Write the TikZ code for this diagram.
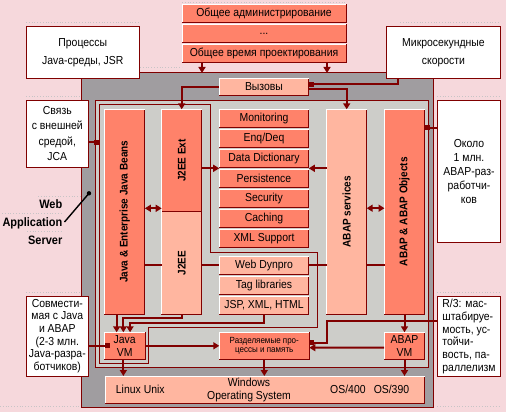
\documentclass[tikz,border=0pt]{standalone}
\usepackage{fontspec}
\setmainfont{Liberation Sans}[FakeStretch=0.9]
\usetikzlibrary{arrows.meta, positioning}
\definecolor{wpink}{RGB}{246,216,220}
\definecolor{wred}{RGB}{128,0,0}
\definecolor{salmon}{RGB}{255,130,106}
\definecolor{lsalmon}{RGB}{255,182,160}
\definecolor{wgrey}{RGB}{160,157,160}
\definecolor{lgrey}{RGB}{205,205,201}
\definecolor{dotgrey}{RGB}{200,196,198}

\begin{document}
\begin{tikzpicture}[
        x=1pt, y=-1pt,
        box/.style={draw=wred, line width=1pt, inner sep=0pt, outer sep=0pt,
            align=center, font=\fontsize{11.6}{13.5}\selectfont},
        salm/.style={box, fill=salmon},
        lsalm/.style={box, fill=lsalmon},
        tbox/.style={salm, minimum width=164pt, minimum height=18pt},
        svc/.style={salm, minimum width=89.6pt, minimum height=18pt},
        web/.style={lsalm, minimum width=89.6pt, minimum height=18pt},
        col/.style={minimum width=40pt, minimum height=204.8pt},
        vm/.style={salm, minimum width=40.7pt, minimum height=27pt},
        note/.style={draw=wred, line width=1pt, fill=white, inner sep=1pt,
            outer sep=0pt, align=center, font=\fontsize{11.6}{#1}\selectfont},
        note/.default=12.7,
        vlabel/.style={rotate=90, inner sep=0pt, font=\bfseries\fontsize{11.1}{13}\selectfont},
        ostext/.style={inner sep=0pt, align=center, font=\fontsize{11.6}{12.7}\selectfont},
        jframe/.style={draw=wred, line width=0.8pt},
        hilite/.style={draw=white, line width=1pt},
        guide/.style={draw=dotgrey, line width=0.8pt, dotted},
        conn/.style={draw=wred, line width=2pt},
        arr/.style={conn, -{Triangle[width=7pt,length=6pt]}},
        dbl/.style={conn, {Triangle[width=7pt,length=6pt]}-{Triangle[width=7pt,length=6pt]}},
        sq/.style={conn, -{Square[width=5pt,length=5pt]}}
        ]
    \useasboundingbox (0,0) rectangle (506,412);
    \fill[wpink] (0,0) rectangle (506,412);

    \foreach \xa/\xb/\yy in {26/140/22.5, 140/182/67.7, 182/346/2.5, 400/500/22.5,
            26/82/96, 437/500/96, 38/82/196.7, 2/62/213.3, 27/62/231.7,
            26/82/292, 437/500/292, 0/82/406, 437/500/406}
        \draw[guide] (\xa,\yy) -- (\xb,\yy);

    \node[tbox] (adm) at (264,13.5) {Общее администрирование};
    \node[tbox, below=2pt of adm] (etc) {...};
    \node[tbox, below=2pt of etc] (prj) {Общее время проектирования};

    \node[box, fill=wgrey, minimum width=351.5pt, minimum height=334pt] (was) at (257.25,240) {};
    \node[note=17.7, minimum width=113pt, minimum height=52pt] (jsr) at (82.8,52.7) {Процессы\\Java-среды, JSR};
    \node[note=17.7, minimum width=114.4pt, minimum height=52pt] (mks) at (443.5,52.7) {Микросекундные\\скорости};
    \node[lsalm, minimum width=89.6pt, minimum height=16.3pt] (vyz) at (264,86.85) {Вызовы};
    \node[box, fill=lgrey, minimum width=333pt, minimum height=267.5pt] (core) at (262,233.75) {};
    \draw[jframe] (99,104) -- (210.3,104) -- (210.3,252) -- (317,252) -- (317,327)
        -- (148.3,327) -- (148.3,363) -- (99,363) -- cycle;
    \coordinate (jstack) at (99,142.3);

    \node[salm, col] (ejb) at (124.85,211.8) {};
    \node[salm, minimum width=40pt, minimum height=102.4pt] (j2eext) at (181.7,160.5) {};
    \node[lsalm, minimum width=40pt, minimum height=102.6pt] (j2ee) at (181.7,263) {};
    \node[lsalm, col] (abs) at (346.7,211.7) {};
    \node[salm, col] (abo) at (404.5,211.7) {};

    \node[svc] (mon) at (264,118.3) {Monitoring};
    \node[svc, below=2pt of mon] (enq) {Enq/Deq};
    \node[svc, below=2pt of enq] (dd) {Data Dictionary};
    \node[svc, below=2pt of dd] (pers) {Persistence};
    \node[svc, below=2pt of pers] (sec) {Security};
    \node[svc, below=2pt of sec] (cach) {Caching};
    \node[svc, below=2pt of cach] (xml) {XML Support};
    \node[web] (wdp) at (264,265.3) {Web Dynpro};
    \node[web, below=2pt of wdp] (tag) {Tag libraries};
    \node[web, below=2pt of tag] (jsp) {JSP, XML, HTML};

    \node[vm] (jvm) at (124.65,345.8) {Java\\VM};
    \node[salm, minimum width=90pt, minimum height=26.6pt, font=\fontsize{8.9}{9.5}\selectfont] (razd) at (264.3,346) {Разделяемые про-\\цессы и память};
    \node[vm] (abvm) at (404.5,345.8) {ABAP\\VM};
    \node[lsalm, minimum width=319.7pt, minimum height=27.3pt] (os) at (264.85,389.65) {};

    \node[note=15.5, minimum width=62pt, minimum height=67.3pt] (jca) at (57.3,133.65) {Связь\\с внешней\\средой,\\JCA};
    \node[note, minimum width=62pt, minimum height=80pt] (compat) at (57.3,336) {Совмести-\\мая с Java\\и ABAP\\(2-3 млн.\\Java-разра-\\ботчиков)};
    \node[note=14, minimum width=63.4pt, minimum height=142.7pt] (mln) at (469,171.35) {Около\\1 млн.\\ABAP-раз-\\работчи-\\ков};
    \node[note, align=left, minimum width=63.4pt, minimum height=80.7pt] (r3) at (469,336.35) {R/3: мас-\\штабируе-\\мость, ус-\\тойчи-\\вость, па-\\раллелизм};

    \foreach \n in {adm,etc,prj,vyz,ejb,j2eext,abs,abo,mon,enq,dd,pers,sec,cach,xml,wdp,tag,jsp,jvm,razd,abvm,os}
        \draw[hilite] (\n.south west) -- (\n.north west) -- (\n.north east);
    \draw[hilite] (j2ee.south west) -- (j2ee.north west);

    \node[vlabel] (ejbl) at (ejb) {Java \& Enterprise Java Beans};
    \node[vlabel] (j2extl) at (j2eext) {J2EE Ext};
    \node[vlabel] (j2eel) at (j2ee) {J2EE};
    \node[vlabel] (absl) at (abs) {ABAP services};
    \node[vlabel] (abol) at (abo) {ABAP \& ABAP Objects};
    \node[ostext] (linux) at (140.3,389.3) {Linux Unix};
    \node[ostext] (win) at (249,389.7) {Windows\\Operating System};
    \node[ostext] (os4) at (369.7,389.3) {OS/400\hspace{.7em}OS/390};

    \node[anchor=east, align=right, inner sep=2pt, font=\bfseries\fontsize{12.2}{18}\selectfont] (waslbl) at (64.5,222) {Web\\Application\\Server};
    \coordinate (wasdot) at (89,193.3);

    \coordinate (ejbr) at ([yshift=3.5pt]ejb.east);
    \coordinate (absr) at ([yshift=3.5pt]abs.east);
    \coordinate (mlnl) at ([yshift=43.6pt]mln.west);
    \coordinate (ddl) at ([yshift=-1pt]dd.south west);
    \coordinate (ddr) at ([yshift=-1pt]dd.south east);
    \coordinate (r3l) at ([yshift=15.6pt]r3.west);
    \coordinate (razdr) at ([yshift=3.3pt]razd.east);
    \coordinate (razdr2) at ([yshift=-1.7pt]razd.east);
    \coordinate (jvm1) at ([xshift=-8pt]jvm.north);
    \coordinate (jvm2) at ([xshift=-1.3pt]jvm.north);
    \coordinate (jvm3) at ([xshift=5.4pt]jvm.north);

    \draw[arr] ([xshift=-62pt]prj.south) -- ([xshift=-62pt]prj.south |- was.north);
    \draw[arr] ([xshift=63pt]prj.south) -- ([xshift=63pt]prj.south |- was.north);
    \draw[sq] ([xshift=-45.5pt]mks.south) |- ([yshift=2.8pt]vyz.east);
    \draw[arr] ([yshift=-1.9pt]vyz.east) -| (abs.north);
    \draw[arr] (vyz.west) -| (j2eext.north);
    \draw[sq] (jca.east |- jstack) -- (jstack);
    \draw[sq] (mlnl) -- (mlnl -| abo.east);
    \draw[dbl] (ejbr) -- (ejbr -| j2eext.west);
    \draw[dbl] (absr) -- (absr -| abo.west);
    \draw[arr] (ddl -| j2eext.east) -- (ddl);
    \draw[arr] (ddr -| abs.west) -- (ddr);
    \draw[conn] (ejb.east |- wdp.west) -- (j2ee.west |- wdp.west)
        (j2ee.east |- wdp.west) -- (wdp.west)
        (wdp.east) -- (abs.west |- wdp.east)
        (abs.east |- wdp.east) -- (abo.west |- wdp.east);
    \draw[sq] (r3l) -| ([xshift=17.4pt]razdr) -- (razdr);
    \draw[arr] ([yshift=-1.7pt]abvm.west) -- (razdr2);
    \draw[arr] (jvm.east) -- (jvm.east -| razd.west);
    \draw[arr] (jvm1 |- ejb.south) -- (jvm1);
    \draw[arr] (j2ee.south) -- ++(0,4) -| (jvm2);
    \draw[arr] (jsp.south) -- ++(0,8.4) -| (jvm3);
    \draw[arr] (jvm2 |- jvm.south) -- (jvm2 |- os.north);
    \draw[arr] (razd.south) -- (razd.south |- os.north);
    \draw[arr] (abvm.south) -- (abvm.south |- os.north);
    \draw[arr] (abo.south) -- (abvm.north);
    \draw[sq, shorten >=-6pt] (compat.east |- jvm.west) -- (jvm.west);
    \draw[line width=1.4pt] (waslbl.east) -- (wasdot);
    \fill (wasdot) circle (2.2pt);
\end{tikzpicture}
\end{document}
